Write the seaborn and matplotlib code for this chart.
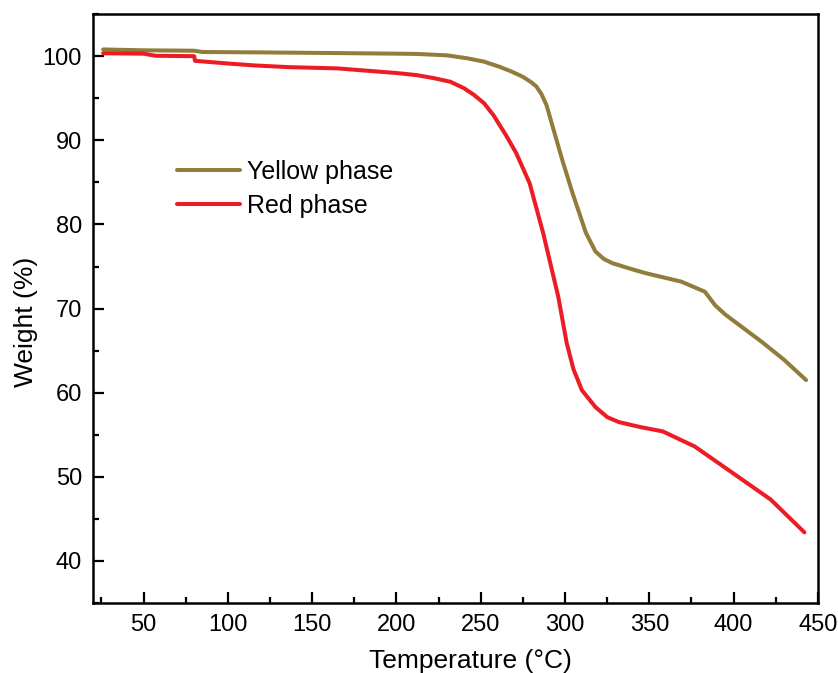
import numpy as np
import pandas as pd
import matplotlib
matplotlib.use("Agg")
import matplotlib.pyplot as plt
import seaborn as sns
from matplotlib.ticker import MultipleLocator
from matplotlib.lines import Line2D

# Data
yellow_T = [26, 50, 80, 85, 120, 160, 200, 212, 230, 242, 252, 261, 268, 275, 280, 283, 286, 289, 293, 298.6, 304.5, 312.4, 318, 323, 328, 341, 348, 369, 383, 389, 395, 417, 430, 443]
yellow_W = [100.8, 100.7, 100.65, 100.5, 100.45, 100.38, 100.3, 100.27, 100.1, 99.75, 99.35, 98.75, 98.2, 97.55, 96.9, 96.4, 95.5, 94.2, 91.4, 87.5, 83.7, 79.0, 76.8, 75.9, 75.4, 74.6, 74.2, 73.2, 72.0, 70.4, 69.3, 66.0, 63.9, 61.5]

red_T = [26, 50, 57, 80, 80.5, 102, 116, 136, 165, 200, 212, 222, 232, 240, 246, 252, 257.5, 265, 271, 279, 287, 296, 301, 305, 310, 318, 325, 332, 345, 358, 377, 397, 422, 442]
red_W = [100.35, 100.3, 100.05, 100.0, 99.45, 99.1, 98.9, 98.7, 98.55, 98.0, 97.75, 97.4, 96.96, 96.2, 95.4, 94.4, 93.0, 90.6, 88.5, 84.9, 79.0, 71.4, 65.9, 62.8, 60.3, 58.3, 57.1, 56.5, 55.9, 55.4, 53.6, 50.8, 47.3, 43.4]

series_names = ["Yellow phase", "Red phase"]
series_colors = ["#917c3c", "#ed1c24"]

df = pd.concat([
    pd.DataFrame({"T": yellow_T, "W": yellow_W, "phase": series_names[0]}),
    pd.DataFrame({"T": red_T, "W": red_W, "phase": series_names[1]}),
], ignore_index=True)

sns.set_theme(style="ticks")
plt.rcParams["font.family"] = ["Liberation Sans", "DejaVu Sans"]
plt.rcParams["text.color"] = "black"
plt.rcParams["axes.labelcolor"] = "black"

fig = plt.figure(figsize=(8.38, 6.73), dpi=100)
ax = fig.add_axes([0.111, 0.104, 0.865, 0.875])

sns.lineplot(data=df, x="T", y="W", hue="phase", hue_order=series_names,
             palette=dict(zip(series_names, series_colors)), linewidth=2.9,
             sort=False, estimator=None, ax=ax, legend=False)

ax.set_xlim(20, 450)
ax.set_ylim(35, 105)
ax.xaxis.set_minor_locator(MultipleLocator(25))
ax.yaxis.set_minor_locator(MultipleLocator(5))
ax.set_xticks([50, 100, 150, 200, 250, 300, 350, 400, 450])
ax.set_yticks([40, 50, 60, 70, 80, 90, 100])

ax.tick_params(which="major", direction="in", length=8, width=1.6, labelsize=17, colors="black", pad=8)
ax.tick_params(which="minor", direction="in", length=4, width=1.6, colors="black")
for s in ax.spines.values():
    s.set_visible(True)
    s.set_linewidth(1.8)
    s.set_color("black")

ax.set_xlabel("Temperature (°C)", fontsize=19, labelpad=9)
ax.set_ylabel("Weight (%)", fontsize=19, labelpad=3)
ax.xaxis.label.set_x(0.52)
ax.yaxis.label.set_y(0.477)

handles = [Line2D([], [], color=c, linewidth=2.9) for c in series_colors]
ax.legend(handles, series_names, loc="center left", bbox_to_anchor=(0.116, 0.703),
          frameon=False, fontsize=18, handlelength=2.5, handletextpad=0.3,
          labelspacing=0.4, borderpad=0, borderaxespad=0)

fig.savefig("out.png", dpi=100)
